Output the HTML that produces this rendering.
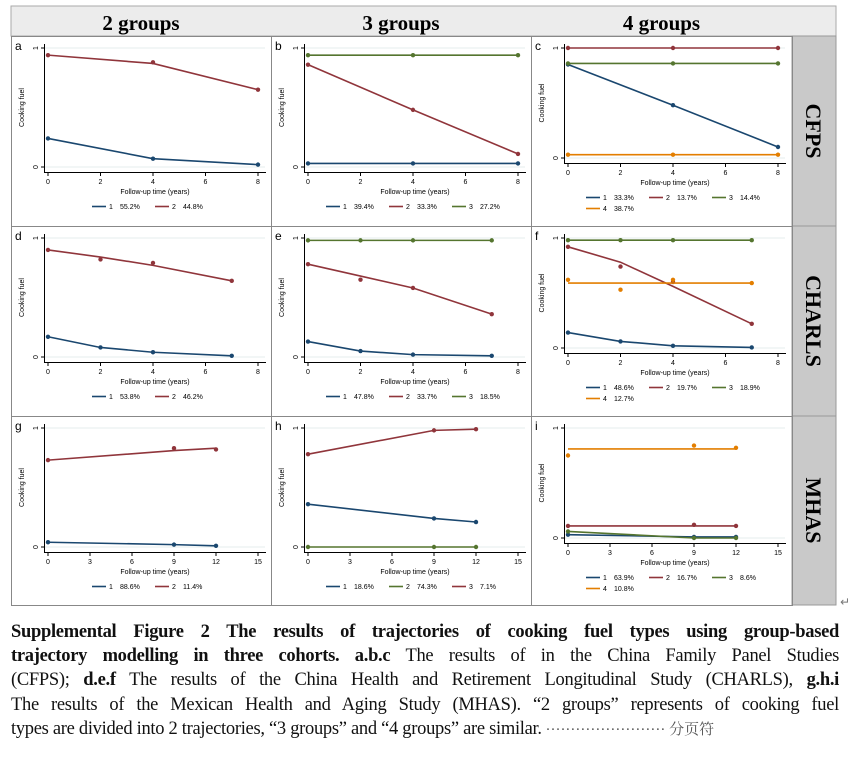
<!DOCTYPE html>
<html><head><meta charset="utf-8">
<style>
body{margin:0;background:#fff;width:852px;height:779px;overflow:hidden;position:relative;font-family:"Liberation Serif","Noto Serif CJK SC",serif}
#cap{position:absolute;left:11px;top:620px;width:828px;font-size:18.5px;line-height:24.2px;color:#111;letter-spacing:-0.3px}
#cap div{white-space:nowrap;text-align:justify;text-align-last:justify}
#cap div.last{text-align-last:left}
#cap b{font-weight:bold}
</style></head><body>
<svg id="fig" width="852" height="610" style="position:absolute;left:0;top:0" xmlns="http://www.w3.org/2000/svg"></svg>
<div id="cap">
<div><b>Supplemental Figure 2 The results of trajectories of cooking fuel types using group-based</b></div>
<div><b>trajectory modelling in three cohorts. a.b.c</b> The results of in the China Family Panel Studies</div>
<div>(CFPS); <b>d.e.f</b> The results of the China Health and Retirement Longitudinal Study (CHARLS), <b>g.h.i</b></div>
<div>The results of the Mexican Health and Aging Study (MHAS). “2 groups” represents of cooking fuel</div>
<div class="last">types are divided into 2 trajectories, “3 groups” and “4 groups” are similar.<span style="color:#555;letter-spacing:0;font-size:15px"> ························ 分页符</span></div>
</div>
<script>
const BLUE='#1a476f',RED='#90353b',GREEN='#55752f',ORANGE='#e37e00';
const colHeaders=['2 groups','3 groups','4 groups'];
const rowLabels=['CFPS','CHARLS','MHAS'];
const panelLetters=['a','b','c','d','e','f','g','h','i'];
const xA=[0,4,8], xB=[0,2,4,7], xC=[0,9,12];
const xTicks8=[0,2,4,6,8], xTicks15=[0,3,6,9,12,15];
const aFit=[[0.24,0.07,0.02],[0.94,0.87,0.65]], aObs=[[0.24,0.07,0.02],[0.94,0.88,0.65]], aPct=['55.2%','44.8%'];
const bFit=[[0.03,0.03,0.03],[0.86,0.48,0.11],[0.94,0.94,0.94]], bObs=bFit, bPct=['39.4%','33.3%','27.2%'];
const cFit=[[0.85,0.48,0.1],[1,1,1],[0.86,0.86,0.86],[0.03,0.03,0.03]], cObs=cFit, cPct=['33.3%','13.7%','14.4%','38.7%'];
const dFit=[[0.17,0.08,0.04,0.01],[0.9,0.84,0.77,0.64]], dObs=[[0.17,0.08,0.04,0.01],[0.9,0.82,0.79,0.64]], dPct=['53.8%','46.2%'];
const eFit=[[0.13,0.05,0.02,0.01],[0.78,0.68,0.58,0.36],[0.98,0.98,0.98,0.98]], eObs=[[0.13,0.05,0.02,0.01],[0.78,0.65,0.58,0.36],[0.98,0.98,0.98,0.98]], ePct=['47.8%','33.7%','18.5%'];
const fFit=[[0.14,0.06,0.02,0.005],[0.92,0.78,0.56,0.22],[0.98,0.98,0.98,0.98],[0.59,0.59,0.59,0.59]], fObs=[[0.14,0.06,0.02,0.005],[0.92,0.74,0.6,0.22],[0.98,0.98,0.98,0.98],[0.62,0.53,0.62,0.59]], fPct=['48.6%','19.7%','18.9%','12.7%'];
const gFit=[[0.04,0.02,0.01],[0.73,0.81,0.83]], gObs=[[0.04,0.02,0.01],[0.73,0.83,0.82]], gPct=['88.6%','11.4%'];
const hFit=[[0.36,0.24,0.21],[0,0,0],[0.78,0.98,0.99]], hObs=hFit, hPct=['18.6%','74.3%','7.1%'];
const iFit=[[0.03,0.01,0.01],[0.11,0.11,0.11],[0.06,0,0],[0.81,0.81,0.81]], iObs=[[0.03,0.01,0.01],[0.11,0.12,0.11],[0.06,0,0],[0.75,0.84,0.82]], iPct=['63.9%','16.7%','8.6%','10.8%'];

const panels=[
 {x:xA,fit:aFit,obs:aObs,pct:aPct,col:[BLUE,RED],ticks:xTicks8,max:8},
 {x:xA,fit:bFit,obs:bObs,pct:bPct,col:[BLUE,RED,GREEN],ticks:xTicks8,max:8},
 {x:xA,fit:cFit,obs:cObs,pct:cPct,col:[BLUE,RED,GREEN,ORANGE],ticks:xTicks8,max:8},
 {x:xB,fit:dFit,obs:dObs,pct:dPct,col:[BLUE,RED],ticks:xTicks8,max:8},
 {x:xB,fit:eFit,obs:eObs,pct:ePct,col:[BLUE,RED,GREEN],ticks:xTicks8,max:8},
 {x:xB,fit:fFit,obs:fObs,pct:fPct,col:[BLUE,RED,GREEN,ORANGE],ticks:xTicks8,max:8},
 {x:xC,fit:gFit,obs:gObs,pct:gPct,col:[BLUE,RED],ticks:xTicks15,max:15},
 {x:xC,fit:hFit,obs:hObs,pct:hPct,col:[BLUE,GREEN,RED],ticks:xTicks15,max:15},
 {x:xC,fit:iFit,obs:iObs,pct:iPct,col:[BLUE,RED,GREEN,ORANGE],ticks:xTicks15,max:15}
];
const svg=document.getElementById('fig');
const NS='http://www.w3.org/2000/svg';
function mk(t,a,parent){const e=document.createElementNS(NS,t);for(const k in a)e.setAttribute(k,a[k]);(parent||svg).appendChild(e);return e;}
const colX=[11,271,531,792], rowY=[36,226,416,605];
let hd=mk('rect',{x:11,y:6,width:825,height:30,fill:'#ececec',stroke:'#aaa','stroke-width':1});


colHeaders.forEach((h,i)=>{const t=mk('text',{x:(colX[i]+colX[i+1])/2,y:30,'text-anchor':'middle','font-family':'Liberation Serif','font-weight':'bold','font-size':21});t.textContent=h;

});
let sc=mk('rect',{x:792,y:36,width:44,height:569,fill:'#c9c9c9',stroke:'#999','stroke-width':1});


rowLabels.forEach((r,i)=>{const cy=(rowY[i]+rowY[i+1])/2;const t=mk('text',{x:0,y:0,transform:`translate(806,${cy}) rotate(90)`,'text-anchor':'middle','font-family':'Liberation Serif','font-weight':'bold','font-size':22});t.textContent=r;


mk('line',{x1:792,y1:rowY[i],x2:836,y2:rowY[i],stroke:'#999'});});
for(let r=0;r<3;r++)for(let c=0;c<3;c++){mk('rect',{x:colX[c]+0.5,y:rowY[r]+0.5,width:colX[c+1]-colX[c],height:rowY[r+1]-rowY[r],fill:'none',stroke:'#888','stroke-width':1});}
panels.forEach((p,k)=>{
 const r=Math.floor(k/3),c=k%3,px=colX[c],py=rowY[r];
 const two=p.fit.length===4;
 const y1=py+12,y0=py+(two?122:131);
 const X=v=>px+37+v*(210/p.max), Y=v=>y0-v*(y0-y1);
 const g=mk('g',{});
 
 
 const L=mk('text',{x:px+4,y:py+14,'font-family':'Liberation Sans','font-size':12},g);L.textContent=panelLetters[k];
 [0,1].forEach(v=>mk('line',{x1:px+34,x2:px+254,y1:Y(v),y2:Y(v),stroke:'#e4eeee','stroke-width':1},g));
 mk('line',{x1:px+33.5,y1:y1-4,x2:px+33.5,y2:y0+6,stroke:'#000','stroke-width':1},g);
 mk('line',{x1:px+33,y1:y0+5.5,x2:px+255,y2:y0+5.5,stroke:'#000','stroke-width':1},g);
 [0,1].forEach(v=>{mk('line',{x1:px+30,x2:px+34,y1:Y(v),y2:Y(v),stroke:'#000'},g);
  const t=mk('text',{transform:`translate(${px+27},${Y(v)}) rotate(-90)`,'text-anchor':'middle','font-family':'Liberation Sans','font-size':7},g);t.textContent=String(v);});
 const yt=mk('text',{transform:`translate(${px+13},${(y0+y1)/2}) rotate(-90)`,'text-anchor':'middle','font-family':'Liberation Sans','font-size':7},g);yt.textContent='Cooking fuel';
 
 
 p.ticks.forEach(v=>{mk('line',{x1:X(v),x2:X(v),y1:y0+5,y2:y0+9,stroke:'#000'},g);
  const t=mk('text',{x:X(v),y:y0+17,'text-anchor':'middle','font-family':'Liberation Sans','font-size':7},g);t.textContent=String(v);});
 const xt=mk('text',{x:px+144,y:y0+27,'text-anchor':'middle','font-family':'Liberation Sans','font-size':7},g);xt.textContent='Follow-up time (years)';
 
 
 p.fit.forEach((s,j)=>{
  const pts=s.map((v,i)=>X(p.x[i])+','+Y(v)).join(' ');
  const pl=mk('polyline',{points:pts,fill:'none',stroke:p.col[j],'stroke-width':1.6},g);
  
  
  p.obs[j].forEach((v,i)=>{const d=mk('circle',{cx:X(p.x[i]),cy:Y(v),r:2.2,fill:p.col[j]},g);
   
   });
 });
 const n=p.fit.length, ly=y0+42;
 const start=n===2?px+81:px+55;
 p.fit.forEach((s,j)=>{
  const row=j===3?1:0, idx=j===3?0:j;
  const lx=start+idx*63, yy=ly+row*11;
  const lg=mk('g',{},g);
  
  
  mk('line',{x1:lx,x2:lx+14,y1:yy-2.5,y2:yy-2.5,stroke:p.col[j],'stroke-width':1.6},lg);
  const t1=mk('text',{x:lx+17,y:yy,'font-family':'Liberation Sans','font-size':7},lg);t1.textContent=String(j+1);
  const t2=mk('text',{x:lx+28,y:yy,'font-family':'Liberation Sans','font-size':7},lg);t2.textContent=p.pct[j];
 });
});
const ret=mk('text',{x:840,y:606,'font-family':'DejaVu Sans','font-size':12,fill:'#777'});ret.textContent='↵';
</script>
</body></html>
